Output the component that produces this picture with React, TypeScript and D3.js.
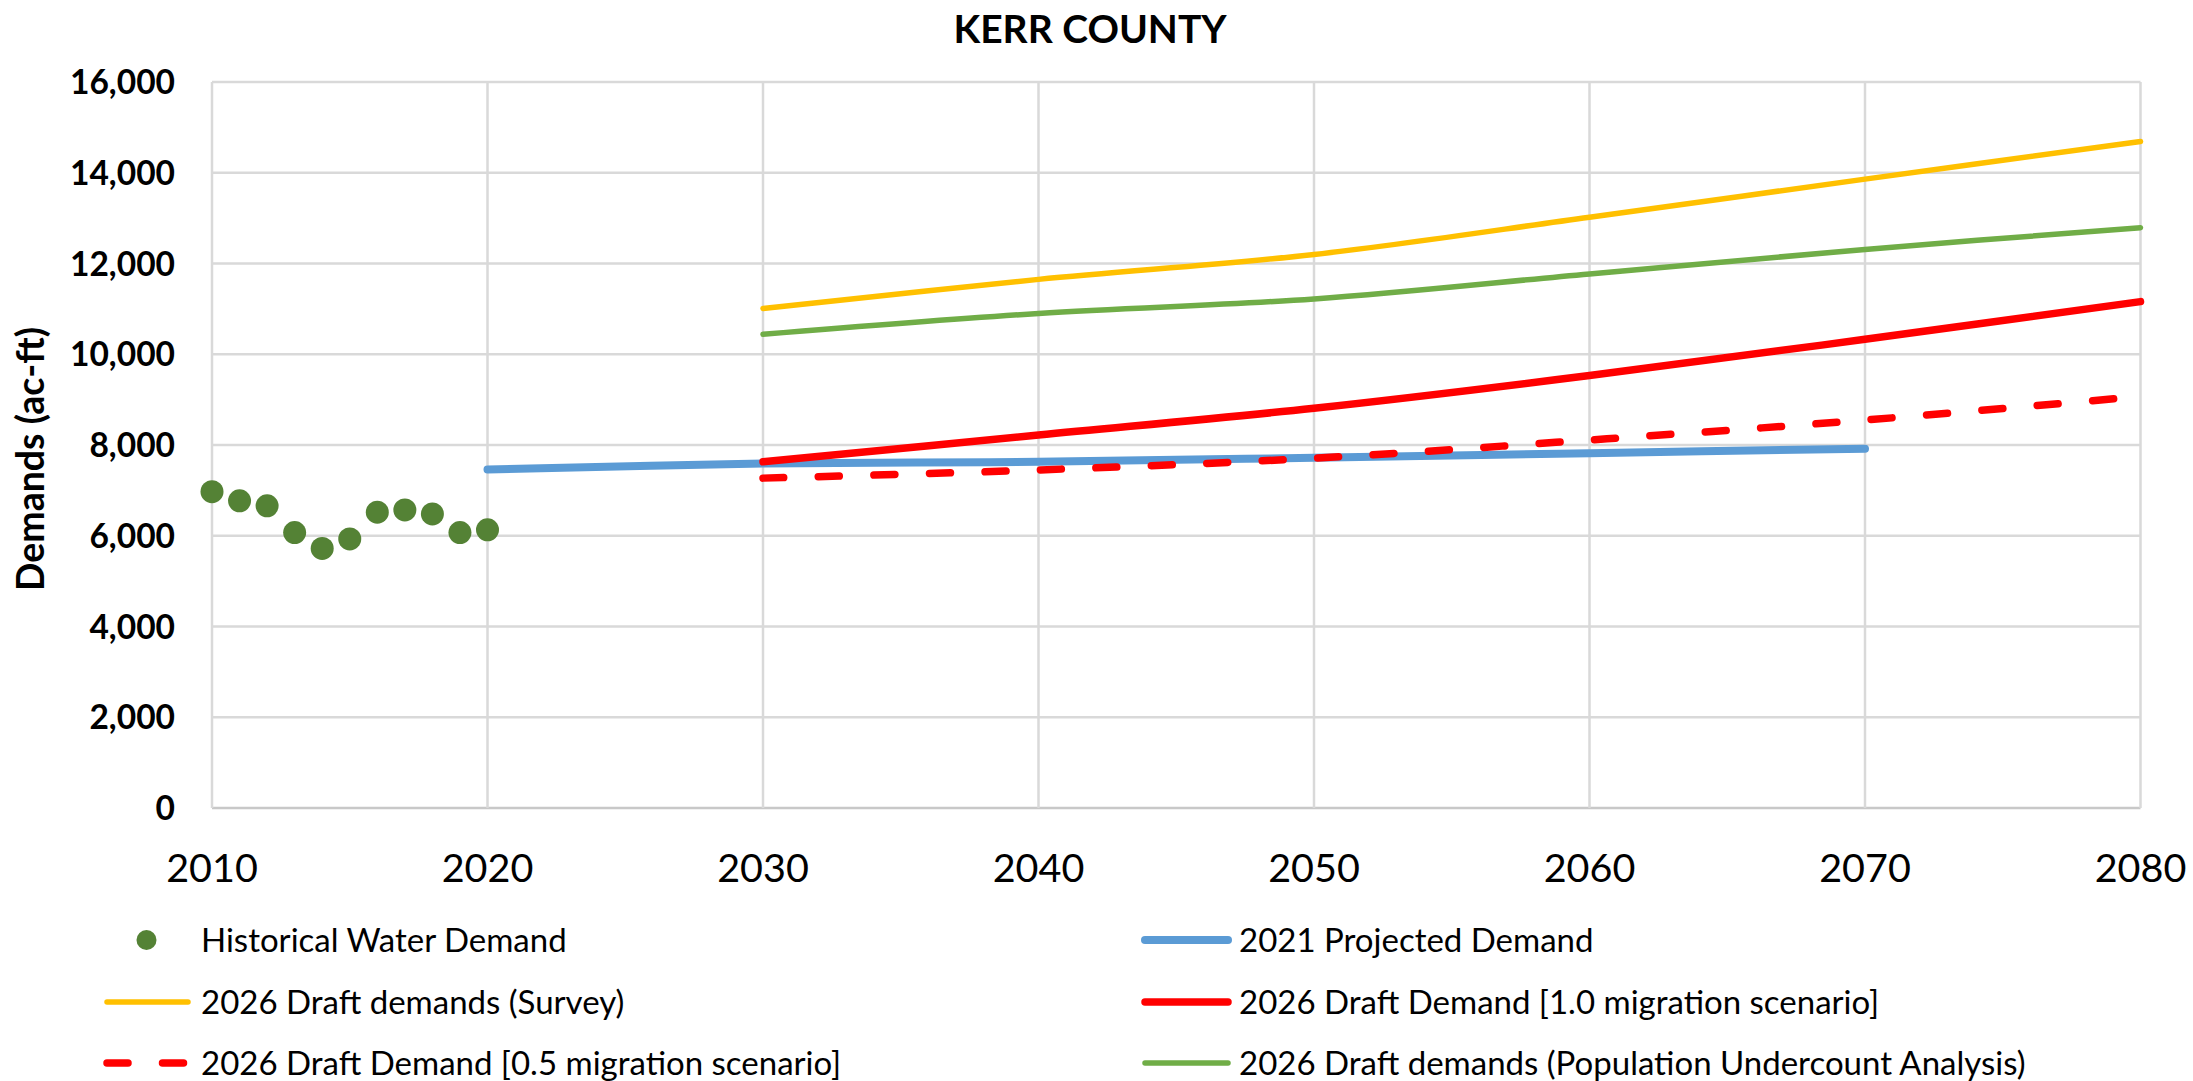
import React from "react";
import * as d3 from "d3";

const historicalYears = [2010, 2011, 2012, 2013, 2014, 2015, 2016, 2017, 2018, 2019, 2020];
const historicalDemand = [6970, 6770, 6660, 6070, 5720, 5930, 6520, 6570, 6480, 6070, 6130];

const projected2021Years = [2020, 2030, 2040, 2050, 2060, 2070];
const projected2021 = [7460, 7590, 7630, 7720, 7820, 7920];

const draftYears = [2030, 2040, 2050, 2060, 2070, 2080];
const draftSurvey = [11010, 11650, 12200, 13020, 13860, 14690];
const draftMigration10 = [7630, 8220, 8810, 9530, 10330, 11160];
const draftMigration05 = [7270, 7450, 7710, 8110, 8550, 9070];
const draftUndercount = [10440, 10900, 11220, 11770, 12310, 12790];

const xTicks = [2010, 2020, 2030, 2040, 2050, 2060, 2070, 2080];
const yTicks = [0, 2000, 4000, 6000, 8000, 10000, 12000, 14000, 16000];

const legendLabels = [
  "Historical Water Demand",
  "2021 Projected Demand",
  "2026 Draft demands (Survey)",
  "2026 Draft Demand [1.0 migration scenario]",
  "2026 Draft Demand [0.5 migration scenario]",
  "2026 Draft demands (Population Undercount Analysis)",
];

const W = 2193;
const H = 1081;
const FONT = "Lato, 'Open Sans', sans-serif";

export default function App() {
  const x = d3.scaleLinear().domain([2010, 2080]).range([212, 2140.5]);
  const y = d3.scaleLinear().domain([0, 16000]).range([808, 82]);
  const fmt = d3.format(",");

  const line = (xs: number[], vs: number[]) =>
    d3
      .line<number>()
      .x((_, i) => x(xs[i]))
      .y((v) => y(v))
      .curve(d3.curveCatmullRom.alpha(0.5))(vs) || "";

  const series = [
    { xs: projected2021Years, vs: projected2021, color: "#5B9BD5", w: 8, dash: undefined as string | undefined },
    { xs: draftYears, vs: draftSurvey, color: "#FFC000", w: 5.5, dash: undefined },
    { xs: draftYears, vs: draftMigration10, color: "#FF0000", w: 7.5, dash: undefined },
    { xs: draftYears, vs: draftMigration05, color: "#FF0000", w: 7.5, dash: "21 34.5" },
    { xs: draftYears, vs: draftUndercount, color: "#70AD47", w: 5.5, dash: undefined },
  ];

  const legendRows = [940, 1002, 1063];
  const legendCols = [
    { lx0: 104, lx1: 191, tx: 201 },
    { lx0: 1142, lx1: 1231, tx: 1239 },
  ];
  const legendItems = [
    { type: "dot", color: "#548235", w: 0, dash: undefined as string | undefined },
    { type: "line", color: "#5B9BD5", w: 8, dash: undefined },
    { type: "line", color: "#FFC000", w: 5.5, dash: undefined },
    { type: "line", color: "#FF0000", w: 7.5, dash: undefined },
    { type: "line", color: "#FF0000", w: 7.5, dash: "21 34.5" },
    { type: "line", color: "#70AD47", w: 5.5, dash: undefined },
  ];

  return (
    <svg
      width={W}
      height={H}
      style={{ position: "absolute", left: 0, top: 0, background: "#fff" }}
      fontFamily={FONT}
    >
      <rect x={0} y={0} width={W} height={H} fill="#fff" />
      {/* gridlines */}
      {yTicks.map((t) => (
        <line key={"gy" + t} x1={x(2010)} x2={x(2080)} y1={y(t)} y2={y(t)} stroke={t === 0 ? "#c8c8c8" : "#d9d9d9"} strokeWidth={2.5} />
      ))}
      {xTicks.map((t) => (
        <line key={"gx" + t} x1={x(t)} x2={x(t)} y1={y(0)} y2={y(16000)} stroke="#d9d9d9" strokeWidth={2.5} />
      ))}
      {/* y tick labels */}
      {yTicks.map((t) => (
        <text key={"ty" + t} x={175} y={y(t)} dy="0.36em" textAnchor="end" fontSize={33.5} fontWeight="bold" fill="#000">
          {fmt(t)}
        </text>
      ))}
      {/* x tick labels */}
      {xTicks.map((t) => (
        <text key={"tx" + t} x={x(t)} y={882} textAnchor="middle" fontSize={39.5} fill="#000">
          {t}
        </text>
      ))}
      {/* title */}
      <text x={1090} y={42.5} textAnchor="middle" fontSize={39} fontWeight="bold" fill="#000">
        KERR COUNTY
      </text>
      {/* y axis title */}
      <text
        transform={`translate(29,459) rotate(-90)`}
        textAnchor="middle"
        dominantBaseline="central"
        fontSize={37.5}
        fontWeight="bold"
        fill="#000"
      >
        Demands (ac-ft)
      </text>
      {/* historical dots */}
      {historicalDemand.map((v, i) => (
        <circle key={"d" + i} cx={x(historicalYears[i])} cy={y(v)} r={11.5} fill="#548235" />
      ))}
      {/* lines */}
      {series.map((s, i) => (
        <path
          key={"s" + i}
          d={line(s.xs, s.vs)}
          fill="none"
          stroke={s.color}
          strokeWidth={s.w}
          strokeDasharray={s.dash}
          strokeLinecap="round"
          strokeLinejoin="round"
        />
      ))}
      {/* legend */}
      {legendItems.map((it, i) => {
        const row = Math.floor(i / 2);
        const col = legendCols[i % 2];
        const cy = legendRows[row];
        return (
          <g key={"l" + i}>
            {it.type === "dot" ? (
              <circle cx={146.5} cy={cy} r={10} fill={it.color} />
            ) : (
              <line
                x1={col.lx0 + 3}
                x2={col.lx1 - 3}
                y1={cy}
                y2={cy}
                stroke={it.color}
                strokeWidth={it.w}
                strokeDasharray={it.dash}
                strokeLinecap="round"
              />
            )}
            <text x={col.tx} y={cy} dy="0.36em" fontSize={33} fill="#000">
              {legendLabels[i]}
            </text>
          </g>
        );
      })}
    </svg>
  );
}
